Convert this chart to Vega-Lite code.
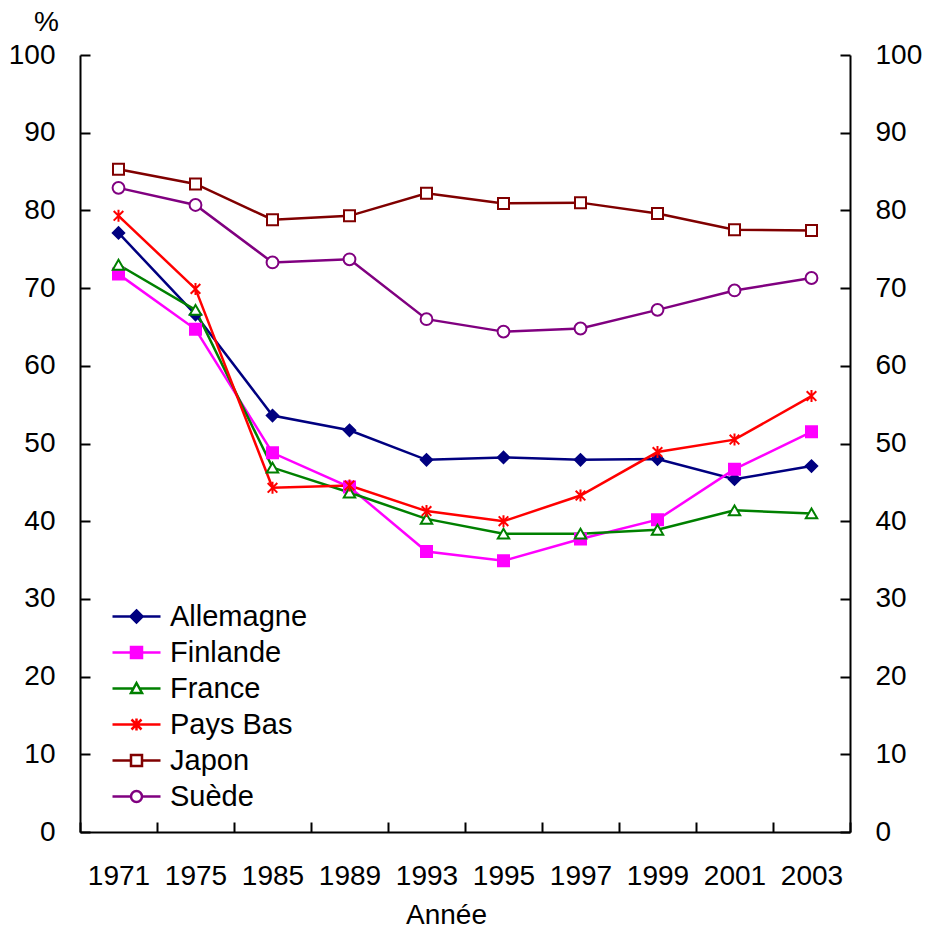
{
  "$schema": "https://vega.github.io/schema/vega-lite/v6.json",
  "width": 770,
  "height": 777,
  "autosize": {"type": "none"},
  "padding": {"left": 80, "top": 55, "right": 82, "bottom": 96},
  "background": "white",
  "config": {
    "font": "Liberation Sans",
    "view": {"stroke": null},
    "axis": {
      "grid": false,
      "domainColor": "black",
      "domainWidth": 2,
      "tickColor": "black",
      "tickWidth": 2,
      "labelColor": "black",
      "labelFont": "Liberation Sans",
      "labelFontSize": 28,
      "titleFont": "Liberation Sans",
      "titleFontSize": 28,
      "titleFontWeight": "normal",
      "titleColor": "black"
    },
    "legend": {"labelFont": "Liberation Sans", "labelFontSize": 29, "labelColor": "black"}
  },
  "data": {
    "values": [
      {"annee": "1971", "pays": "Allemagne", "valeur": 77.1},
      {"annee": "1975", "pays": "Allemagne", "valeur": 66.6},
      {"annee": "1985", "pays": "Allemagne", "valeur": 53.6},
      {"annee": "1989", "pays": "Allemagne", "valeur": 51.7},
      {"annee": "1993", "pays": "Allemagne", "valeur": 47.9},
      {"annee": "1995", "pays": "Allemagne", "valeur": 48.2},
      {"annee": "1997", "pays": "Allemagne", "valeur": 47.9},
      {"annee": "1999", "pays": "Allemagne", "valeur": 48.0},
      {"annee": "2001", "pays": "Allemagne", "valeur": 45.4},
      {"annee": "2003", "pays": "Allemagne", "valeur": 47.1},
      {"annee": "1971", "pays": "Finlande", "valeur": 71.8},
      {"annee": "1975", "pays": "Finlande", "valeur": 64.7},
      {"annee": "1985", "pays": "Finlande", "valeur": 48.8},
      {"annee": "1989", "pays": "Finlande", "valeur": 44.4},
      {"annee": "1993", "pays": "Finlande", "valeur": 36.1},
      {"annee": "1995", "pays": "Finlande", "valeur": 34.9},
      {"annee": "1997", "pays": "Finlande", "valeur": 37.7},
      {"annee": "1999", "pays": "Finlande", "valeur": 40.2},
      {"annee": "2001", "pays": "Finlande", "valeur": 46.7},
      {"annee": "2003", "pays": "Finlande", "valeur": 51.5},
      {"annee": "1971", "pays": "France", "valeur": 73.0},
      {"annee": "1975", "pays": "France", "valeur": 67.2},
      {"annee": "1985", "pays": "France", "valeur": 46.9},
      {"annee": "1989", "pays": "France", "valeur": 43.7},
      {"annee": "1993", "pays": "France", "valeur": 40.3},
      {"annee": "1995", "pays": "France", "valeur": 38.4},
      {"annee": "1997", "pays": "France", "valeur": 38.4},
      {"annee": "1999", "pays": "France", "valeur": 38.9},
      {"annee": "2001", "pays": "France", "valeur": 41.4},
      {"annee": "2003", "pays": "France", "valeur": 41.0},
      {"annee": "1971", "pays": "Pays Bas", "valeur": 79.3},
      {"annee": "1975", "pays": "Pays Bas", "valeur": 69.9},
      {"annee": "1985", "pays": "Pays Bas", "valeur": 44.3},
      {"annee": "1989", "pays": "Pays Bas", "valeur": 44.6},
      {"annee": "1993", "pays": "Pays Bas", "valeur": 41.3},
      {"annee": "1995", "pays": "Pays Bas", "valeur": 40.0},
      {"annee": "1997", "pays": "Pays Bas", "valeur": 43.3},
      {"annee": "1999", "pays": "Pays Bas", "valeur": 48.9},
      {"annee": "2001", "pays": "Pays Bas", "valeur": 50.5},
      {"annee": "2003", "pays": "Pays Bas", "valeur": 56.1},
      {"annee": "1971", "pays": "Japon", "valeur": 85.3},
      {"annee": "1975", "pays": "Japon", "valeur": 83.4},
      {"annee": "1985", "pays": "Japon", "valeur": 78.8},
      {"annee": "1989", "pays": "Japon", "valeur": 79.3},
      {"annee": "1993", "pays": "Japon", "valeur": 82.2},
      {"annee": "1995", "pays": "Japon", "valeur": 80.9},
      {"annee": "1997", "pays": "Japon", "valeur": 81.0},
      {"annee": "1999", "pays": "Japon", "valeur": 79.6},
      {"annee": "2001", "pays": "Japon", "valeur": 77.5},
      {"annee": "2003", "pays": "Japon", "valeur": 77.4},
      {"annee": "1971", "pays": "Suède", "valeur": 82.9},
      {"annee": "1975", "pays": "Suède", "valeur": 80.7},
      {"annee": "1985", "pays": "Suède", "valeur": 73.3},
      {"annee": "1989", "pays": "Suède", "valeur": 73.7},
      {"annee": "1993", "pays": "Suède", "valeur": 66.0},
      {"annee": "1995", "pays": "Suède", "valeur": 64.4},
      {"annee": "1997", "pays": "Suède", "valeur": 64.8},
      {"annee": "1999", "pays": "Suède", "valeur": 67.2},
      {"annee": "2001", "pays": "Suède", "valeur": 69.7},
      {"annee": "2003", "pays": "Suède", "valeur": 71.3}
    ]
  },
  "encoding": {
    "x": {
      "field": "annee",
      "type": "ordinal",
      "bandPosition": 0.5,
      "scale": {"type": "band", "paddingInner": 0, "paddingOuter": 0},
      "axis": {
        "title": "Année",
        "labelAngle": 0,
        "tickBand": "extent",
        "tickSize": -10,
        "labelPadding": 40,
        "titleX": 366,
        "titleY": 91,
        "titleBaseline": "alphabetic",
        "titleAnchor": null,
        "titleAlign": "center"
      }
    }
  },
  "layer": [
    {
      "mark": {"type": "line", "strokeWidth": 2.5},
      "encoding": {
        "y": {
          "field": "valeur",
          "type": "quantitative",
          "scale": {"domain": [0, 100], "nice": false},
          "axis": {
            "title": "%",
            "titleAngle": 0,
            "titleX": -34,
            "titleY": -25,
            "titleBaseline": "alphabetic",
            "titleAlign": "center",
            "values": [0, 10, 20, 30, 40, 50, 60, 70, 80, 90, 100],
            "tickSize": -10,
            "labelPadding": 35
          }
        },
        "color": {
          "field": "pays",
          "type": "nominal",
          "scale": {
            "domain": ["Allemagne", "Finlande", "France", "Pays Bas", "Japon", "Suède"],
            "range": ["#000080", "#FF00FF", "#008000", "#FF0000", "#800000", "#800080"]
          },
          "legend": {
            "title": null,
            "orient": "none",
            "legendX": 42,
            "legendY": 547,
            "symbolSize": 100,
            "symbolStrokeWidth": 2.5,
            "labelOffset": 19,
            "rowPadding": 6,
            "encode": {
              "symbols": {
                "update": {
                  "shape": {"signal": "datum.value === 'Allemagne' ? 'M-4.8,0H4.8M0,-1.2L1.2,0L0,1.2L-1.2,0Z' : datum.value === 'Finlande' ? 'M-4.8,0H4.8M-1.1,-1.1H1.1V1.1H-1.1Z' : datum.value === 'France' ? 'M-4.8,0H-0.6M0.6,0H4.8M0,-1.1L1.1,0.9H-1.1Z' : datum.value === 'Pays Bas' ? 'M-4.8,0H4.8M-1,-1L1,1M-1,1L1,-1M0,-1.2V1.2' : datum.value === 'Japon' ? 'M-4.8,0H-1.1M1.1,0H4.8M-1.1,-1.1H1.1V1.1H-1.1Z' : 'M-4.8,0H-1.1M1.1,0H4.8M1.1,0A1.1,1.1 0 1,1 -1.1,0A1.1,1.1 0 1,1 1.1,0Z'"},
                  "fill": {"signal": "datum.value === 'Allemagne' ? '#000080' : datum.value === 'Finlande' ? '#FF00FF' : datum.value === 'Pays Bas' ? '#FF0000' : 'white'"},
                  "size": {"value": 100},
                  "strokeWidth": {"value": 2.5},
                  "opacity": {"value": 1}
                }
              }
            }
          }
        }
      }
    },
    {
      "encoding": {
        "y": {
          "field": "valeur",
          "type": "quantitative",
          "scale": {"domain": [0, 100], "nice": false},
          "axis": {
            "orient": "right",
            "title": null,
            "values": [0, 10, 20, 30, 40, 50, 60, 70, 80, 90, 100],
            "tickSize": -10,
            "labelPadding": 35
          }
        }
      },
      "layer": [
        {
          "transform": [{"filter": "datum.pays === 'Allemagne'"}],
          "mark": {"type": "point", "shape": "diamond", "filled": true, "fill": "#000080", "stroke": "#000080", "size": 130, "strokeWidth": 2, "opacity": 1}
        },
        {
          "transform": [{"filter": "datum.pays === 'Finlande'"}],
          "mark": {"type": "point", "shape": "square", "filled": true, "fill": "#FF00FF", "stroke": "#FF00FF", "size": 121, "strokeWidth": 2, "opacity": 1}
        },
        {
          "transform": [{"filter": "datum.pays === 'France'"}],
          "mark": {"type": "point", "shape": "triangle-up", "filled": true, "fill": "white", "stroke": "#008000", "size": 130, "strokeWidth": 2, "opacity": 1}
        },
        {
          "transform": [{"filter": "datum.pays === 'Pays Bas'"}],
          "mark": {"type": "point", "shape": "M-0.8,-0.8L0.8,0.8M-0.8,0.8L0.8,-0.8M0,-1V1", "filled": false, "stroke": "#FF0000", "size": 144, "strokeWidth": 2, "opacity": 1}
        },
        {
          "transform": [{"filter": "datum.pays === 'Japon'"}],
          "mark": {"type": "point", "shape": "square", "filled": true, "fill": "white", "stroke": "#800000", "size": 121, "strokeWidth": 2, "opacity": 1}
        },
        {
          "transform": [{"filter": "datum.pays === 'Suède'"}],
          "mark": {"type": "point", "shape": "circle", "filled": true, "fill": "white", "stroke": "#800080", "size": 140, "strokeWidth": 2, "opacity": 1}
        }
      ]
    }
  ],
  "resolve": {"scale": {"y": "independent"}}
}
